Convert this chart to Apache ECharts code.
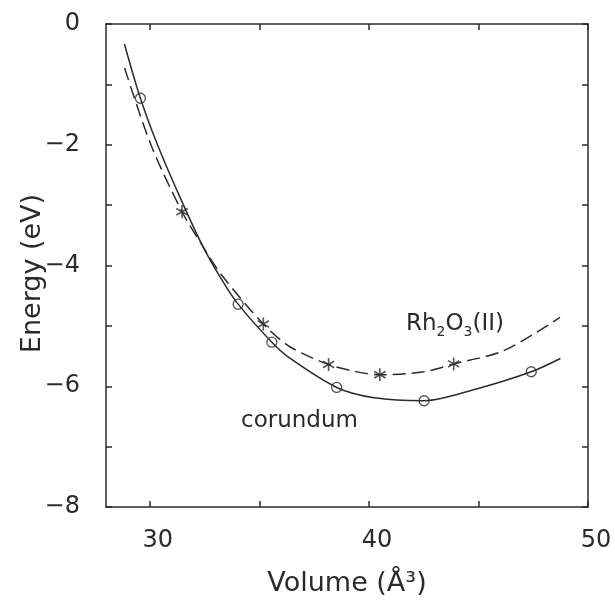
<!DOCTYPE html>
<html>
<head>
<meta charset="utf-8">
<script src="https://cdn.jsdelivr.net/npm/echarts@6/dist/echarts.min.js"></script>
<style>
  html, body { margin: 0; padding: 0; background: #fff; }
  #chart { width: 615px; height: 602px; }
</style>
</head>
<body>
<div id="chart"></div>
<script>
// ---- data ----
// fitted curve, corundum (solid)
var corundumCurveV = [28.84, 29.57, 30.35, 31.39, 32.40, 33.26, 34.03, 35.57, 36.41, 38.53, 40.24, 42.52, 44.95, 47.41, 48.74];
var corundumCurveE = [-0.33, -1.23, -2.00, -2.88, -3.67, -4.22, -4.64, -5.27, -5.54, -6.02, -6.19, -6.24, -6.04, -5.76, -5.54];
// fitted curve, Rh2O3(II) (dashed)
var rhCurveV = [28.85, 30.05, 31.47, 32.40, 33.26, 35.18, 36.41, 38.16, 39.31, 40.50, 42.51, 43.87, 46.15, 48.72];
var rhCurveE = [-0.73, -2.00, -3.11, -3.67, -4.15, -4.97, -5.35, -5.64, -5.75, -5.81, -5.76, -5.63, -5.41, -4.86];
// calculated points
var corundumV = [29.57, 34.03, 35.57, 38.53, 42.52, 47.41];
var corundumE = [-1.23, -4.64, -5.27, -6.02, -6.24, -5.76];
var rhV = [31.47, 35.18, 38.16, 40.50, 43.87];
var rhE = [-3.11, -4.97, -5.64, -5.81, -5.63];
// axes
var xTicks = [30, 35, 40, 45, 50];
var xLabels = [30, 40, 50];
var yTicks = [-8, -7, -6, -5, -4, -3, -2, -1, 0];
var yLabels = [-8, -6, -4, -2, 0];

function pairs(xs, ys) { return xs.map(function (x, i) { return [x, ys[i]]; }); }

var ink = '#2b2b2b';
var font = '"DejaVu Sans", sans-serif';
var axisLine = { show: true, onZero: false, lineStyle: { color: ink, width: 1.5 } };
var starPath = 'path://M6,0L6,12M0.8,3L11.2,9M0.8,9L11.2,3';

var chart = echarts.init(document.getElementById('chart'), null, { renderer: 'canvas' });
chart.setOption({
  animation: false,
  backgroundColor: '#fff',
  grid: { left: 106, right: 27, top: 24, bottom: 93, containLabel: false },
  xAxis: [{
    type: 'value', min: 28, max: 50, position: 'bottom',
    axisLine: axisLine,
    axisTick: { show: true, inside: true, length: 6, customValues: xTicks, lineStyle: { color: ink, width: 1.5 } },
    axisLabel: { customValues: xLabels, color: ink, fontFamily: font, fontSize: 24, margin: 22, padding: [0, 0, 0, 16] },
    splitLine: { show: false },
    name: 'Volume (Å³)', nameLocation: 'middle', nameGap: 63,
    nameTextStyle: { color: ink, fontFamily: font, fontSize: 27 }
  }, {
    type: 'value', min: 28, max: 50, position: 'top',
    axisLine: axisLine,
    axisTick: { show: true, inside: true, length: 6, customValues: xTicks, lineStyle: { color: ink, width: 1.5 } },
    axisLabel: { show: false },
    splitLine: { show: false }
  }],
  yAxis: [{
    type: 'value', min: -8, max: 0, position: 'left',
    axisLine: axisLine,
    axisTick: { show: true, inside: true, length: 6, customValues: yTicks, lineStyle: { color: ink, width: 1.5 } },
    axisLabel: {
      customValues: yLabels, color: ink, fontFamily: font, fontSize: 24, margin: 26,
      formatter: function (v) { return (v < 0 ? '\u2212' : '') + Math.abs(v); }
    },
    splitLine: { show: false },
    name: 'Energy (eV)', nameLocation: 'middle', nameGap: 60, nameRotate: 90, nameMoveOverlap: false,
    nameTextStyle: { color: ink, fontFamily: font, fontSize: 27, padding: [0, 16, 0, 0] }
  }, {
    type: 'value', min: -8, max: 0, position: 'right',
    axisLine: axisLine,
    axisTick: { show: true, inside: true, length: 6, customValues: yTicks, lineStyle: { color: ink, width: 1.5 } },
    axisLabel: { show: false },
    splitLine: { show: false }
  }],
  series: [{
    name: 'corundum fit', type: 'line', xAxisIndex: 0, yAxisIndex: 0,
    data: pairs(corundumCurveV, corundumCurveE),
    smooth: 0.3, showSymbol: false, symbol: 'none',
    lineStyle: { color: ink, width: 1.5 }, z: 2
  }, {
    name: 'Rh2O3(II) fit', type: 'line', xAxisIndex: 0, yAxisIndex: 0,
    data: pairs(rhCurveV, rhCurveE),
    smooth: 0.3, showSymbol: false, symbol: 'none',
    lineStyle: { color: ink, width: 1.5, type: [13, 6] }, z: 2
  }, {
    name: 'corundum', type: 'scatter', xAxisIndex: 0, yAxisIndex: 0,
    data: pairs(corundumV, corundumE),
    symbol: 'circle', symbolSize: 10,
    itemStyle: { color: 'rgba(255,255,255,0)', borderColor: ink, borderWidth: 1.3 }, z: 3
  }, {
    name: 'Rh2O3(II)', type: 'scatter', xAxisIndex: 0, yAxisIndex: 0,
    data: pairs(rhV, rhE),
    symbol: starPath, symbolSize: 13, symbolKeepAspect: true,
    itemStyle: { color: 'none', borderColor: ink, borderWidth: 1.6 }, z: 3
  }],
  graphic: [{
    type: 'text', left: 406, top: 309,
    style: {
      text: 'Rh{sub|2}O{sub|3}(II)',
      fill: ink, font: '23px "DejaVu Sans", sans-serif', lineHeight: 30,
      rich: { sub: { fontSize: 14, fontFamily: font, fill: ink, verticalAlign: 'bottom', lineHeight: 14 } }
    }
  }, {
    type: 'text', left: 241, top: 410,
    style: { text: 'corundum', fill: ink, font: '23px "DejaVu Sans", sans-serif' }
  }]
});
</script>
</body>
</html>
